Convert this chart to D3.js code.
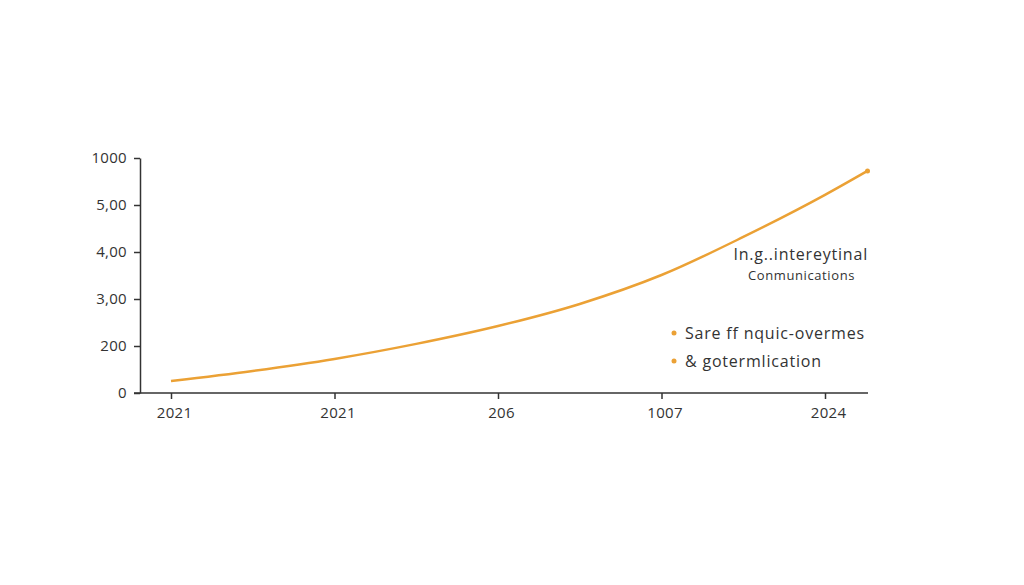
<!DOCTYPE html>
<html>
<head>
<meta charset="utf-8">
<script src="https://cdn.jsdelivr.net/npm/d3@7"></script>
<style>
  body { margin: 0; background: #fff; }
  svg { display: block; font-family: "Open Sans", sans-serif; }
  .axis text { fill: #333; font-size: 15px; letter-spacing: 0.3px; font-family: "Open Sans", sans-serif; }
  .axis path, .axis line { stroke: #333; stroke-width: 1.5; }
</style>
</head>
<body>
<div class="chart"></div>
<script>
// tick labels as printed on the chart
const xTickLabels = ["2021", "2021", "206", "1007", "2024"];
const yTickValues = [0, 200, 400, 600, 800, 1000];
const yTickLabels = ["0", "200", "3,00", "4,00", "5,00", "1000"];

// curve points: position along x ticks, value
const lineX = [0, 0.5, 1, 1.5, 2, 2.5, 3, 3.5, 4, 4.26];
const lineY = [51, 94, 145, 209, 285, 379, 502, 664, 843, 945];

const noteLines = ["In.g..intereytinal", "Conmunications"];
const legendItems = ["Sare ff nquic-overmes", "& gotermlication"];

const svgWidth = 1024, svgHeight = 585;
const margin = { top: 158, right: 156, bottom: 192, left: 140 };
const height = svgHeight - margin.top - margin.bottom;

const svg = d3.select(".chart").append("svg")
    .attr("width", svgWidth)
    .attr("height", svgHeight);

const chartGroup = svg.append("g")
    .attr("transform", `translate(${margin.left}, ${margin.top})`);

// scales
const xScale = d3.scaleLinear().domain([0, 4]).range([31, 685]);
const yScale = d3.scaleLinear().domain([0, 1000]).range([height, 0]);

// axes
const bottomAxis = d3.axisBottom(xScale)
    .tickValues(d3.range(xTickLabels.length))
    .tickFormat(i => xTickLabels[i])
    .tickSize(6).tickSizeOuter(0).tickPadding(8);
const leftAxis = d3.axisLeft(yScale)
    .tickValues(yTickValues)
    .tickFormat((d, i) => yTickLabels[i])
    .tickSize(6).tickSizeOuter(0).tickPadding(7);

const xAxisG = chartGroup.append("g").attr("class", "axis")
    .attr("transform", `translate(0, ${height})`)
    .call(bottomAxis);
xAxisG.select(".domain").attr("d", `M-6,0H728`);
xAxisG.selectAll(".tick text").attr("dx", 3);

chartGroup.append("g").attr("class", "axis").call(leftAxis);

// line
const points = lineX.map((x, i) => [x, lineY[i]]);
const line = d3.line()
    .x(d => xScale(d[0]))
    .y(d => yScale(d[1]))
    .curve(d3.curveMonotoneX);

chartGroup.append("path")
    .datum(points)
    .attr("fill", "none")
    .attr("stroke", "#EBA135")
    .attr("stroke-width", 2.5)
    .attr("d", line);

const last = points[points.length - 1];
chartGroup.append("circle")
    .attr("cx", xScale(last[0]))
    .attr("cy", yScale(last[1]))
    .attr("r", 2.5)
    .attr("fill", "#EBA135");

// note text
chartGroup.append("text")
    .attr("x", 728).attr("y", 102)
    .attr("text-anchor", "end")
    .attr("fill", "#333")
    .style("font-size", "16px")
    .style("letter-spacing", "0.8px")
    .text(noteLines[0]);
chartGroup.append("text")
    .attr("x", 715).attr("y", 122)
    .attr("text-anchor", "end")
    .attr("fill", "#333")
    .style("font-size", "13px")
    .style("letter-spacing", "0.6px")
    .text(noteLines[1]);

// legend
const legend = chartGroup.selectAll("g.legend")
    .data(legendItems)
    .enter()
    .append("g")
    .attr("class", "legend")
    .attr("transform", (d, i) => `translate(534, ${175 + i * 28})`);

legend.append("circle")
    .attr("r", 2.5)
    .attr("fill", "#EBA135");

legend.append("text")
    .attr("x", 11)
    .attr("dy", "0.35em")
    .attr("fill", "#333")
    .style("font-size", "16px")
    .style("letter-spacing", "0.8px")
    .text(d => d);
</script>
</body>
</html>
